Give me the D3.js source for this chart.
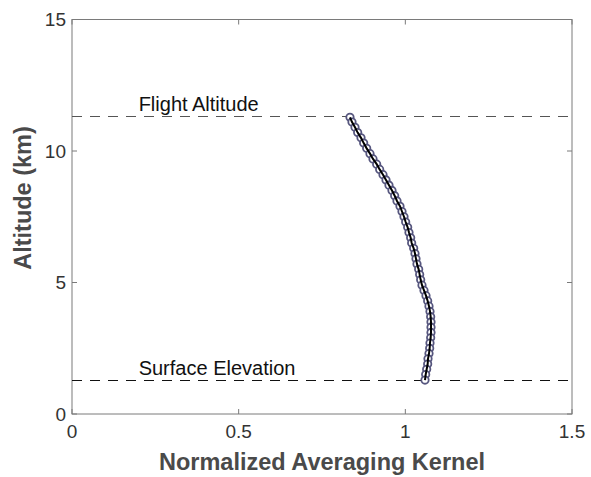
<!DOCTYPE html>
<html>
<head>
<meta charset="utf-8">
<title>kernel</title>
<script src="https://cdn.jsdelivr.net/npm/d3@7"></script>
<style>
body { margin: 0; background: white; }
text { font-family: "Liberation Sans", Arial, sans-serif; }
</style>
</head>
<body>
<svg width="591" height="477"></svg>
<script>
// averaging kernel (x) vs altitude in km (y)
const altitude = [11.28, 11.1, 10.9, 10.7, 10.5, 10.3, 10.1, 9.9, 9.7, 9.5, 9.3, 9.1, 8.9, 8.7,
                  8.5, 8.3, 8.1, 7.9, 7.7, 7.5, 7.3, 7.1, 6.9, 6.7, 6.5, 6.3, 6.1, 5.9, 5.7,
                  5.5, 5.3, 5.1, 4.9, 4.7, 4.5, 4.3, 4.1, 3.9, 3.7, 3.5, 3.3, 3.1, 2.9, 2.7,
                  2.5, 2.3, 2.1, 1.9, 1.7, 1.5, 1.29];
const kernel = [0.834, 0.840, 0.849, 0.857, 0.867, 0.875, 0.884, 0.894, 0.903, 0.914, 0.923, 0.933,
                0.942, 0.951, 0.960, 0.968, 0.975, 0.984, 0.990, 0.996, 1.001, 1.007, 1.011, 1.016,
                1.019, 1.025, 1.029, 1.032, 1.035, 1.040, 1.043, 1.046, 1.050, 1.056, 1.062, 1.067,
                1.071, 1.074, 1.076, 1.077, 1.077, 1.077, 1.076, 1.074, 1.073, 1.071, 1.068, 1.067,
                1.064, 1.061, 1.059];
const xTicks = [0, 0.5, 1, 1.5];
const yTicks = [0, 5, 10, 15];
const flightAltitude = 11.33;
const surfaceElevation = 1.29;

const svg = d3.select("svg");
const mLeft = 72, mRight = 572, mTop = 19.5, mBottom = 414;

const x = d3.scaleLinear().domain([0, 1.5]).range([mLeft, mRight]);
const y = d3.scaleLinear().domain([0, 15]).range([mBottom, mTop]);

const pts = kernel.map((k, i) => ({k: k, a: altitude[i]}));

// box
svg.append("rect")
    .attr("x", mLeft).attr("y", mTop)
    .attr("width", mRight - mLeft).attr("height", mBottom - mTop)
    .attr("fill", "none").attr("stroke", "#7a7a7a").attr("stroke-width", 1);

// ticks (inside, mirrored)
const tickCol = "#7a7a7a";
xTicks.forEach(function (t) {
    svg.append("line").attr("x1", x(t)).attr("x2", x(t)).attr("y1", mBottom).attr("y2", mBottom - 5)
        .attr("stroke", tickCol);
    svg.append("line").attr("x1", x(t)).attr("x2", x(t)).attr("y1", mTop).attr("y2", mTop + 5)
        .attr("stroke", tickCol);
    svg.append("text").attr("x", x(t)).attr("y", mBottom + 24)
        .attr("text-anchor", "middle").attr("font-size", 19).attr("fill", "#333")
        .text(t);
});
yTicks.forEach(function (t) {
    svg.append("line").attr("x1", mLeft).attr("x2", mLeft + 5).attr("y1", y(t)).attr("y2", y(t))
        .attr("stroke", tickCol);
    svg.append("line").attr("x1", mRight).attr("x2", mRight - 5).attr("y1", y(t)).attr("y2", y(t))
        .attr("stroke", tickCol);
    svg.append("text").attr("x", mLeft - 6).attr("y", y(t) + 6.5)
        .attr("text-anchor", "end").attr("font-size", 19).attr("fill", "#333")
        .text(t);
});

// reference lines
svg.append("line").attr("x1", mLeft).attr("x2", mRight)
    .attr("y1", y(flightAltitude)).attr("y2", y(flightAltitude))
    .attr("stroke", "#555").attr("stroke-dasharray", "10,8")
    .attr("shape-rendering", "crispEdges");
svg.append("line").attr("x1", mLeft).attr("x2", mRight)
    .attr("y1", y(surfaceElevation)).attr("y2", y(surfaceElevation))
    .attr("stroke", "#111").attr("stroke-dasharray", "10,8")
    .attr("shape-rendering", "crispEdges");

svg.append("text").attr("x", x(0.2)).attr("y", y(flightAltitude) - 5)
    .attr("font-size", 20).attr("fill", "#111").text("Flight Altitude");
svg.append("text").attr("x", x(0.2)).attr("y", y(surfaceElevation) - 5)
    .attr("font-size", 20).attr("fill", "#111").text("Surface Elevation");

// markers
svg.append("g").selectAll("circle")
    .data(pts).enter().append("circle")
    .attr("cx", d => x(d.k)).attr("cy", d => y(d.a))
    .attr("r", 3.7)
    .attr("fill", "white").attr("stroke", "#56567e").attr("stroke-width", 1.8);

// line
svg.append("path").datum(pts)
    .attr("d", d3.line().x(d => x(d.k)).y(d => y(d.a)))
    .attr("fill", "none").attr("stroke", "black").attr("stroke-width", 2);

// axis labels
svg.append("text").attr("x", (mLeft + mRight) / 2).attr("y", 470)
    .attr("text-anchor", "middle").attr("font-size", 23.5).attr("font-weight", "bold")
    .attr("fill", "#4a4a4a").text("Normalized Averaging Kernel");
svg.append("text")
    .attr("transform", "translate(31,198) rotate(-90)")
    .attr("text-anchor", "middle").attr("font-size", 23.5).attr("font-weight", "bold")
    .attr("fill", "#4a4a4a").text("Altitude (km)");
</script>
</body>
</html>
